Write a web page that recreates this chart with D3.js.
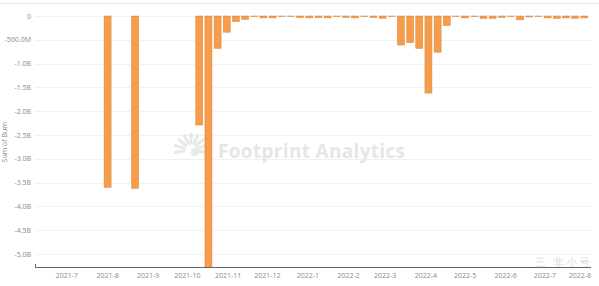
<!DOCTYPE html>
<meta charset="utf-8">
<style>
  body { margin: 0; background: #fff; }
  text { font-family: "Open Sans", sans-serif; }
</style>
<body>
<script src="https://d3js.org/d3.v7.min.js"></script>
<script>
// weekly burn, values in billions (negative = burned)
var weeks = ["2021-08-01", "2021-08-22", "2021-10-10", "2021-10-17", "2021-10-24", "2021-10-31",
  "2021-11-07", "2021-11-14", "2021-11-21", "2021-11-28", "2021-12-05", "2021-12-12", "2021-12-19",
  "2021-12-26", "2022-01-02", "2022-01-09", "2022-01-16", "2022-01-23", "2022-01-30", "2022-02-06",
  "2022-02-13", "2022-02-20", "2022-02-27", "2022-03-06", "2022-03-13", "2022-03-20", "2022-03-27",
  "2022-04-03", "2022-04-10", "2022-04-17", "2022-04-24", "2022-05-01", "2022-05-08", "2022-05-15",
  "2022-05-22", "2022-05-29", "2022-06-05", "2022-06-12", "2022-06-19", "2022-06-26", "2022-07-03",
  "2022-07-10", "2022-07-17", "2022-07-24", "2022-07-31"];
var burn = [-3.60, -3.62, -2.29, -5.60, -0.68, -0.34,
  -0.12, -0.07, -0.01, -0.04, -0.04, -0.01, -0.01,
  -0.035, -0.04, -0.035, -0.04, -0.01, -0.03, -0.04,
  -0.01, -0.03, -0.05, -0.01, -0.61, -0.56, -0.68,
  -1.62, -0.76, -0.20, -0.01, -0.04, -0.01, -0.05,
  -0.05, -0.03, -0.01, -0.08, -0.02, -0.01, -0.04,
  -0.05, -0.04, -0.05, -0.04];
var monthTicks = ["2021-07", "2021-08", "2021-09", "2021-10", "2021-11", "2021-12", "2022-01",
  "2022-02", "2022-03", "2022-04", "2022-05", "2022-06", "2022-07", "2022-08"];
var monthLabels = ["2021-7", "2021-8", "2021-9", "2021-10", "2021-11", "2021-12", "2022-1",
  "2022-2", "2022-3", "2022-4", "2022-5", "2022-6", "2022-7", "2022-8"];
var yTicks = [0, -0.5, -1, -1.5, -2, -2.5, -3, -3.5, -4, -4.5, -5];
var yLabels = ["0", "-500.0M", "-1.0B", "-1.5B", "-2.0B", "-2.5B", "-3.0B", "-3.5B", "-4.0B", "-4.5B", "-5.0B"];

var W = 599, H = 286;
var parse = d3.timeParse("%Y-%m-%d");
var parseM = d3.timeParse("%Y-%m");

var svg = d3.select("body").append("svg")
  .attr("width", W).attr("height", H);

// x: Jul 1 2021 -> 67px, Jul 1 2022 -> 545px
var x = d3.scaleTime()
  .domain([parse("2021-07-01"), parse("2022-07-01")])
  .range([67, 545]);
var left = 35, right = 591;
var y = d3.scaleLinear().domain([-5.273, 0]).range([267, 16]);

svg.append("line").attr("x1", 0).attr("x2", W).attr("y1", 3.5).attr("y2", 3.5)
  .attr("stroke", "#ececec");

// grid
svg.append("g").selectAll("line").data(yTicks).enter().append("line")
  .attr("x1", left).attr("x2", right)
  .attr("y1", d => Math.round(y(d)) + 0.5).attr("y2", d => Math.round(y(d)) + 0.5)
  .attr("stroke", "#f1f1f1");

// watermark
var wm = svg.append("g").attr("opacity", 0.9);
var cx = 191, cy = 150;
d3.range(9).forEach(function(i) {
  var a = -Math.PI / 2 - Math.PI * 0.55 + i * Math.PI * 1.1 / 8;
  wm.append("line")
    .attr("x1", cx + Math.cos(a) * 7).attr("y1", cy + Math.sin(a) * 7)
    .attr("x2", cx + Math.cos(a) * 16).attr("y2", cy + Math.sin(a) * 16)
    .attr("stroke", "#e6e6e6").attr("stroke-width", 3).attr("stroke-linecap", "round");
});
wm.append("circle").attr("cx", cx + 4).attr("cy", cy + 2).attr("r", 4).attr("fill", "#e6e6e6");
wm.append("text").attr("x", 218).attr("y", 158)
  .attr("font-size", 19).attr("font-weight", 700).attr("fill", "#e4e4e4")
  .attr("textLength", 187)
  .text("Footprint Analytics");

// bars
var clip = svg.append("clipPath").attr("id", "plot").append("rect")
  .attr("x", left).attr("y", 0).attr("width", right - left).attr("height", 267);
var bw = 7;
svg.append("g").attr("clip-path", "url(#plot)")
  .selectAll("rect").data(weeks).enter().append("rect")
  .attr("x", d => x(parse(d)) - bw / 2)
  .attr("y", y(0))
  .attr("width", bw)
  .attr("height", (d, i) => Math.max(0.6, y(burn[i]) - y(0)))
  .attr("fill", "#f59d4a")
  .attr("stroke", "#d9843a")
  .attr("stroke-width", 0.5);

// corner watermark (kept above the tick labels)
svg.append("text").attr("x", 592).attr("y", 266)
  .attr("text-anchor", "end").attr("font-size", 11).attr("fill", "#dcdcdc")
  .attr("letter-spacing", 2)
  .text("三 非小号");

// x axis
var xAxis = svg.append("g").attr("transform", "translate(0,267)");
xAxis.append("line").attr("x1", left).attr("x2", right).attr("y1", 0.5).attr("y2", 0.5)
  .attr("stroke", "#666");
xAxis.append("line").attr("x1", left + 0.5).attr("x2", left + 0.5).attr("y1", -3).attr("y2", 1)
  .attr("stroke", "#666");
xAxis.selectAll("text.m").data(monthTicks).enter().append("text")
  .attr("x", d => Math.min(x(parseM(d)), 580))
  .attr("y", 11)
  .attr("text-anchor", "middle")
  .attr("font-size", 7)
  .attr("fill", "#8a8a8a")
  .text((d, i) => monthLabels[i]);

// y axis labels
svg.append("g").selectAll("text").data(yTicks).enter().append("text")
  .attr("x", 31)
  .attr("y", d => y(d) + 2.5)
  .attr("text-anchor", "end")
  .attr("font-size", 7)
  .attr("fill", "#8a8a8a")
  .text((d, i) => yLabels[i]);

svg.append("text")
  .attr("transform", "translate(7,142) rotate(-90)")
  .attr("text-anchor", "middle")
  .attr("font-size", 7)
  .attr("fill", "#8a8a8a")
  .text("Sum of Burn");
</script>
</body>
